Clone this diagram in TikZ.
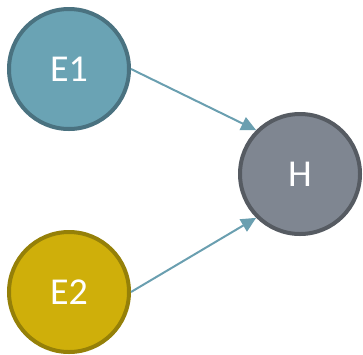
\documentclass[tikz,border=0pt]{standalone}
\usepackage{fontspec}
\setmainfont{Carlito}
\usetikzlibrary{arrows.meta}
\definecolor{eonefill}{HTML}{6AA3B4}
\definecolor{eoneline}{HTML}{4A7280}
\definecolor{etwofill}{HTML}{CFAF0A}
\definecolor{etwoline}{HTML}{958008}
\definecolor{hfill}{HTML}{7F8691}
\definecolor{hline}{HTML}{565B62}
\definecolor{edgecol}{HTML}{6A9FB0}

\begin{document}
\begin{tikzpicture}[x=1pt,y=-1pt,
    state/.style={circle,line width=4pt,minimum size=120pt,inner sep=0pt,
        text=white,font=\fontsize{38}{40}\selectfont},
    link/.style={draw=edgecol,line width=2pt,-{Triangle[length=15pt,width=14pt]}}]
  \useasboundingbox (0,0) rectangle (363,354);
  % nodes
  \node[state,fill=eonefill,draw=eoneline] (E1) at (69,69) {E1};
  \node[state,fill=etwofill,draw=etwoline] (E2) at (69,292) {E2};
  \node[state,fill=hfill,draw=hline] (H) at (300,174) {H};
  % edges
  \draw[link] (E1.east) -- (H.135);
  \draw[link] (E2.east) -- (H.225);
\end{tikzpicture}
\end{document}
